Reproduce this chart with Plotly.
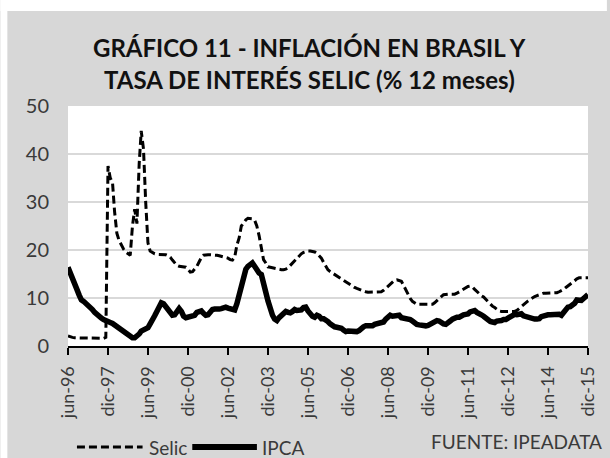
import pandas as pd
import plotly.graph_objects as go

# ---------------- data (monthly, jun-96 .. dic-15) ----------------
ipca = [
    16.4, 15.4, 14.2, 13.0, 11.8, 10.6, 9.6,                          # 1996 jun-dic
    9.3, 8.9, 8.6, 8.1, 7.6, 7.0, 6.5, 6.1, 5.8, 5.5, 5.2, 5.1,         # 1997
    4.9, 4.7, 4.4, 4.0, 3.6, 3.3, 2.9, 2.5, 2.2, 1.9, 1.7, 1.7,         # 1998
    2.0, 2.5, 3.1, 3.3, 3.4, 3.8, 4.6, 5.3, 6.3, 7.2, 8.2, 9.0,         # 1999
    8.8, 8.1, 7.3, 6.8, 6.4, 6.5, 7.1, 7.8, 7.2, 6.2, 5.9, 6.0,         # 2000
    6.0, 6.2, 6.4, 7.0, 7.1, 7.3, 6.8, 6.4, 6.5, 7.2, 7.6, 7.7,         # 2001
    7.6, 7.7, 7.8, 8.0, 8.1, 7.9, 7.8, 7.6, 7.5, 8.8, 10.9, 12.9,       # 2002
    14.5, 16.0, 16.6, 17.0, 17.3, 16.6, 15.6, 15.2, 14.9, 13.5, 11.2, 9.4,  # 2003
    7.7, 6.4, 5.6, 5.3, 5.9, 6.3, 6.8, 7.2, 7.0, 6.9, 7.2, 7.6,         # 2004
    7.4, 7.4, 7.5, 8.0, 8.1, 7.3, 6.6, 6.2, 6.0, 6.4, 6.2, 5.7,         # 2005
    5.7, 5.5, 5.1, 4.6, 4.2, 4.0, 3.9, 3.8, 3.7, 3.3, 3.0, 3.1,         # 2006
    3.0, 3.0, 3.0, 3.0, 3.2, 3.7, 4.0, 4.2, 4.2, 4.1, 4.2, 4.5,         # 2007
    4.6, 4.6, 4.7, 5.0, 5.6, 6.1, 6.4, 6.2, 6.3, 6.4, 6.4, 5.9,         # 2008
    5.8, 5.9, 5.6, 5.5, 5.2, 4.8, 4.5, 4.4, 4.3, 4.2, 4.2, 4.3,         # 2009
    4.6, 4.8, 5.2, 5.3, 5.2, 4.8, 4.6, 4.5, 4.7, 5.2, 5.6, 5.9,         # 2010
    6.0, 6.0, 6.3, 6.5, 6.6, 6.7, 7.1, 7.3, 7.4, 7.0, 6.6, 6.5,         # 2011
    6.2, 5.8, 5.2, 5.1, 5.0, 4.9, 5.2, 5.2, 5.3, 5.5, 5.5, 5.8,         # 2012
    6.2, 6.3, 6.6, 6.5, 6.5, 6.7, 6.3, 6.1, 5.9, 5.8, 5.8, 5.6,         # 2013
    5.6, 5.7, 6.1, 6.3, 6.4, 6.5, 6.5, 6.5, 6.7, 6.6, 6.6, 6.4,         # 2014
    7.1, 7.7, 8.1, 8.2, 8.5, 8.9, 9.6, 9.5, 9.5, 9.9, 10.5, 10.7,       # 2015
]

selic = [
    2.1, 1.9, 1.8, 1.7, 1.7, 1.6, 1.6,                                  # 1996 jun-dic
    1.6, 1.6, 1.6, 1.6, 1.6, 1.6, 1.6, 1.6, 1.6, 1.6, 1.8, 37.5,        # 1997
    35.0, 34.0, 28.0, 23.5, 22.0, 21.0, 20.2, 19.6, 19.2, 18.9, 25.0, 28.5,  # 1998
    25.5, 38.0, 44.8, 41.0, 30.0, 21.5, 19.8, 19.5, 19.2, 19.1, 19.1, 19.0,  # 1999
    19.0, 19.0, 18.8, 18.5, 17.9, 17.2, 16.8, 16.6, 16.5, 16.5, 16.4, 16.0,  # 2000
    15.4, 15.5, 16.0, 16.6, 17.5, 18.4, 18.9, 19.0, 19.0, 19.0, 19.0, 19.0,  # 2001
    18.9, 18.8, 18.7, 18.6, 18.5, 18.3, 18.0, 17.9, 18.5, 21.0, 22.5, 25.0,  # 2002
    25.6, 26.3, 26.6, 26.6, 26.5, 26.2, 25.0, 23.0, 20.5, 18.0, 17.3, 16.5,  # 2003
    16.4, 16.3, 16.2, 16.0, 15.9, 15.9, 15.9, 16.0, 16.3, 16.8, 17.4, 17.8,  # 2004
    18.3, 18.8, 19.2, 19.5, 19.7, 19.8, 19.8, 19.7, 19.6, 19.3, 18.8, 18.3,  # 2005
    17.4, 16.5, 15.9, 15.5, 15.2, 14.9, 14.5, 14.2, 13.9, 13.6, 13.3, 13.0,  # 2006
    12.7, 12.4, 12.2, 12.0, 11.8, 11.6, 11.4, 11.3, 11.2, 11.2, 11.2, 11.2,  # 2007
    11.2, 11.2, 11.3, 11.6, 12.0, 12.5, 13.0, 13.4, 13.7, 13.8, 13.7, 13.5,  # 2008
    12.6, 11.6, 10.8, 9.9, 9.3, 8.9, 8.7, 8.7, 8.7, 8.7, 8.7, 8.7,          # 2009
    8.7, 8.7, 9.0, 9.5, 10.0, 10.3, 10.7, 10.8, 10.8, 10.8, 10.8, 10.8,     # 2010
    11.0, 11.3, 11.6, 11.9, 12.2, 12.4, 12.5, 12.3, 11.8, 11.3, 10.8, 10.5, # 2011
    10.2, 9.7, 9.2, 8.7, 8.3, 8.0, 7.6, 7.3, 7.2, 7.2, 7.2, 7.2,            # 2012
    7.2, 7.2, 7.2, 7.4, 7.8, 8.3, 8.6, 9.0, 9.4, 9.7, 10.1, 10.3,           # 2013
    10.5, 10.7, 10.9, 11.0, 11.0, 11.0, 11.0, 11.0, 11.0, 11.1, 11.3, 11.5, # 2014
    11.8, 12.2, 12.5, 12.8, 13.2, 13.6, 14.0, 14.2, 14.2, 14.2, 14.2, 14.2, # 2015
]

months = pd.date_range("1996-06-01", "2015-12-01", freq="MS")

tick_dates = ["1996-06-01", "1997-12-01", "1999-06-01", "2000-12-01", "2002-06-01",
              "2003-12-01", "2005-06-01", "2006-12-01", "2008-06-01", "2009-12-01",
              "2011-06-01", "2012-12-01", "2014-06-01", "2015-12-01"]
tick_labels = ["jun-96", "dic-97", "jun-99", "dic-00", "jun-02", "dic-03", "jun-05",
               "dic-06", "jun-08", "dic-09", "jun-11", "dic-12", "jun-14", "dic-15"]
y_ticks = [0, 10, 20, 30, 40, 50]

series_names = ["Selic", "IPCA"]
title_lines = ["GRÁFICO 11 - INFLACIÓN EN BRASIL Y",
               "TASA DE INTERÉS SELIC (% 12 meses)"]
source_text = "FUENTE: IPEADATA"

assert len(ipca) == len(months) and len(selic) == len(months)

# ---------------- figure ----------------
W, H = 610, 458
L, R, T, B = 68, 19, 106, 112
PW, PH = W - L - R, H - T - B


def px_x(px):
    return (px - L) / PW


def px_y(py):
    return (H - B - py) / PH


BASE_FONT = "Lato, 'Open Sans', sans-serif"
TXT = "#3a3a3a"
SELIC_LINE = dict(color="black", width=3, dash="8px,4px")
IPCA_LINE = dict(color="black", width=5.5)

fig = go.Figure()
fig.add_trace(go.Scatter(x=months, y=selic, name=series_names[0], mode="lines",
                         line=SELIC_LINE, showlegend=False))
fig.add_trace(go.Scatter(x=months, y=ipca, name=series_names[1], mode="lines",
                         line=IPCA_LINE, showlegend=False))

LEG_Y = 447
shapes = [
    # white strips outside the grey panel
    dict(type="rect", xref="paper", yref="paper", layer="below",
         x0=px_x(0), x1=px_x(W), y0=px_y(11), y1=px_y(0),
         fillcolor="white", line=dict(width=0)),
    dict(type="rect", xref="paper", yref="paper", layer="below",
         x0=px_x(0), x1=px_x(7), y0=px_y(H), y1=px_y(0),
         fillcolor="white", line=dict(width=0)),
    # legend samples
    dict(type="line", xref="paper", yref="paper",
         x0=px_x(77), x1=px_x(143), y0=px_y(LEG_Y), y1=px_y(LEG_Y), line=SELIC_LINE),
    dict(type="line", xref="paper", yref="paper",
         x0=px_x(193), x1=px_x(258), y0=px_y(LEG_Y), y1=px_y(LEG_Y),
         line=dict(color="black", width=6)),
]

TITLE_FONT = dict(size=24, color="#111111", family="Lato, 'Open Sans', sans-serif")
annotations = [
    dict(text=f"<b>{title_lines[0]}</b>", xref="paper", yref="paper",
         x=px_x(311), y=px_y(48), xanchor="center", yanchor="middle",
         showarrow=False, font=TITLE_FONT),
    dict(text=f"<b>{title_lines[1]}</b>", xref="paper", yref="paper",
         x=px_x(311), y=px_y(80), xanchor="center", yanchor="middle",
         showarrow=False, font=TITLE_FONT),
    dict(text=series_names[0], xref="paper", yref="paper",
         x=px_x(147), y=px_y(LEG_Y), xanchor="left", yanchor="middle",
         showarrow=False, font=dict(size=19, color=TXT, family=BASE_FONT)),
    dict(text=series_names[1], xref="paper", yref="paper",
         x=px_x(261), y=px_y(LEG_Y), xanchor="left", yanchor="middle",
         showarrow=False, font=dict(size=19, color=TXT, family=BASE_FONT)),
    dict(text=source_text, xref="paper", yref="paper",
         x=px_x(607), y=px_y(441), xanchor="right", yanchor="middle",
         showarrow=False, font=dict(size=19, color=TXT, family=BASE_FONT)),
]

fig.update_layout(
    width=W, height=H,
    margin=dict(l=L, r=R, t=T, b=B, pad=0),
    paper_bgcolor="#d7d7d7",
    plot_bgcolor="white",
    font=dict(family=BASE_FONT, color=TXT, size=18),
    showlegend=False,
    xaxis=dict(
        range=[months[0], months[-1]],
        tickmode="array", tickvals=tick_dates, ticktext=tick_labels,
        tickangle=-90, ticks="outside", ticklen=7, tickwidth=1.5, tickcolor="black",
        ticklabelstandoff=4,
        showline=True, linecolor="black", linewidth=2,
        showgrid=False, zeroline=False,
        tickfont=dict(size=18, color=TXT, family=BASE_FONT),
    ),
    yaxis=dict(
        range=[0, 50], tickmode="array", tickvals=y_ticks,
        showgrid=True, gridcolor="#d9d9d9", gridwidth=1.5,
        zeroline=False, showline=False, ticks="",
        ticklabelstandoff=18,
        tickfont=dict(size=20, color=TXT, family=BASE_FONT),
    ),
    shapes=shapes,
    annotations=annotations,
)

fig.write_html(
    "out.html",
    config={"displayModeBar": False},
    post_script="document.body.style.margin='0';"
                "document.documentElement.style.overflow='hidden';",
)
